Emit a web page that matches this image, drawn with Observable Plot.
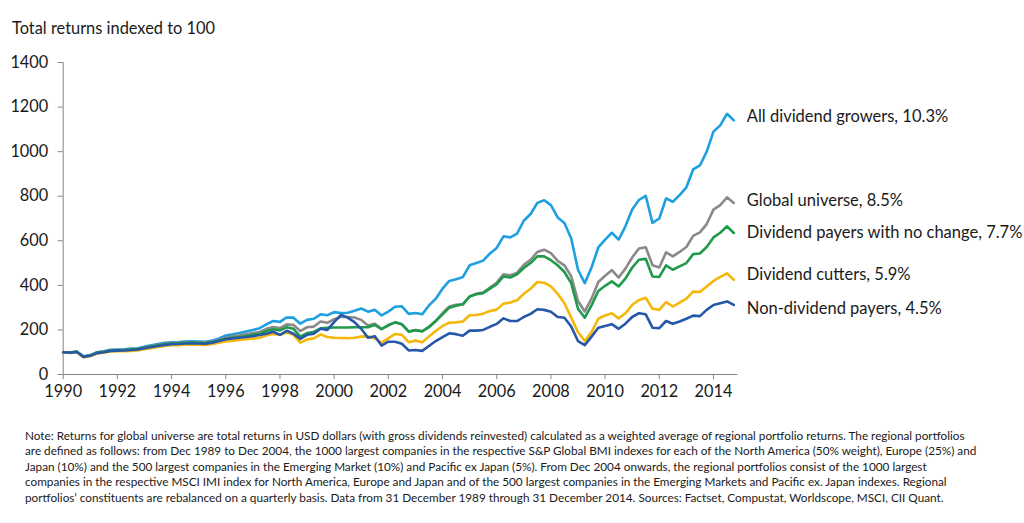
<!DOCTYPE html>
<html>
<head>
<meta charset="utf-8">
<script src="https://cdn.jsdelivr.net/npm/d3@7"></script>
<script src="https://cdn.jsdelivr.net/npm/@observablehq/plot@0.6"></script>
<style>
  html, body { margin: 0; padding: 0; background: #fff; }
  body { width: 1024px; height: 523px; position: relative; overflow: hidden; font-family: Lato, "Open Sans", sans-serif; color: #1a1a1a; }
  #title { position: absolute; left: 12px; top: 18px; font-size: 16.4px; }
  #chart { position: absolute; left: 0; top: 40px; }
  #note { position: absolute; left: 25px; top: 428px; font-size: 11.75px; line-height: 15.4px; white-space: nowrap; }
</style>
</head>
<body>
<div id="title">Total returns indexed to 100</div>
<div id="chart"></div>
<div id="note">Note: Returns for global universe are total returns in USD dollars (with gross dividends reinvested) calculated as a weighted average of regional portfolio returns. The regional portfolios<br>are defined as follows: from Dec 1989 to Dec 2004, the 1000 largest companies in the respective S&amp;P Global BMI indexes for each of the North America (50% weight), Europe (25%) and<br>Japan (10%) and the 500 largest companies in the Emerging Market (10%) and Pacific ex Japan (5%). From Dec 2004 onwards, the regional portfolios consist of the 1000 largest<br>companies in the respective MSCI IMI index for North America, Europe and Japan and of the 500 largest companies in the Emerging Markets and Pacific ex. Japan indexes. Regional<br>portfolios’ constituents are rebalanced on a quarterly basis. Data from 31 December 1989 through 31 December 2014. Sources: Factset, Compustat, Worldscope, MSCI, CII Quant.</div>
<script>
// Series names (legend labels) and colours
const seriesNames = [
  "All dividend growers, 10.3%",
  "Global universe, 8.5%",
  "Dividend payers with no change, 7.7%",
  "Dividend cutters, 5.9%",
  "Non-dividend payers, 4.5%"
];
const seriesColors = ["#1d9fe0", "#8a8a8a", "#1f9a4b", "#f5b70a", "#2558a8"];

// Axis ticks
const yearTicks = [1990, 1992, 1994, 1996, 1998, 2000, 2002, 2004, 2006, 2008, 2010, 2012, 2014];
const valueTicks = [0, 200, 400, 600, 800, 1000, 1200, 1400];

// Quarterly index values, first value = Dec 1989
const allGrowers = [100,99,103,82,87,100,104,111,112,113,116,118,125,131,137,142,145,146,148,149,148,147,152,162,
  175,180,186,193,200,208,225,240,236,256,255,228,245,250,270,266,280,276,277,286,296,282,290,265,282,304,306,272,276,270,310,340,
  385,420,427,437,490,500,511,543,568,620,615,632,690,720,770,782,760,705,680,610,470,410,480,570,605,636,605,665,740,783,802,
  680,700,790,775,805,840,920,938,1000,1090,1118,1170,1140];
const globalUniverse = [100,98,102,81,86,99,103,109,110,111,113,115,121,127,133,138,141,142,144,145,144,143,148,156,
  165,172,176,181,186,191,205,213,208,225,222,195,212,215,238,232,248,258,258,256,245,220,228,205,220,234,226,193,200,195,215,240,
  275,305,313,315,350,363,368,390,412,450,445,456,492,515,550,560,545,510,490,440,330,283,340,415,443,468,435,475,525,565,571,
  490,480,548,530,550,572,622,638,675,740,760,795,770];
const noChange = [100,98,102,80,85,98,102,108,109,110,112,114,120,125,131,136,139,140,142,143,142,141,146,153,
  160,165,168,173,178,182,195,203,198,212,205,170,186,191,207,210,211,211,211,212,212,212,223,203,222,234,225,192,199,193,212,240,
  270,300,309,315,350,360,365,385,405,440,435,450,478,500,530,530,513,490,460,410,295,255,310,375,398,418,395,430,480,515,519,
  440,438,490,470,485,500,540,543,572,615,636,665,635];
const cutters = [100,97,100,78,82,94,98,103,104,105,106,108,114,118,123,128,131,132,134,135,134,133,137,143,
  148,152,155,158,161,165,176,182,178,188,178,143,157,162,180,168,165,164,163,165,170,171,162,143,162,182,178,145,152,145,170,195,
  218,232,234,238,266,267,273,285,291,318,323,333,362,385,415,412,395,362,320,255,190,150,190,250,265,275,252,275,312,334,344,
  295,290,325,305,322,340,372,370,395,420,438,454,425];
const nonPayers = [100,98,101,79,84,96,100,106,107,108,110,112,118,123,128,133,136,137,139,140,139,138,143,150,
  158,162,165,168,172,177,183,192,178,196,183,160,178,183,205,200,235,268,255,235,205,165,172,130,147,147,138,108,110,106,128,150,
  168,185,181,174,197,197,200,214,227,252,240,240,258,272,293,290,282,258,255,215,150,132,170,210,218,226,205,228,258,275,270,
  210,208,240,228,238,250,264,262,290,312,320,328,312];

const seriesValues = [allGrowers, globalUniverse, noChange, cutters, nonPayers];

// Long-form table built from the arrays
const rows = [];
seriesValues.forEach((vals, s) => {
  vals.forEach((v, i) => rows.push({series: seriesNames[s], t: 1990 + i / 4, v}));
});
const lastPoints = seriesValues.map((vals, s) => ({series: seriesNames[s], t: 1990 + (vals.length - 1) / 4, v: vals[vals.length - 1]}));

const labelDy = [-4, -2, 0, -5, 4];
const axisColor = "#868686";
const fs = 16.3;

const chart = Plot.plot({
  width: 1024,
  height: 380,
  marginLeft: 62.7,
  marginRight: 288,
  marginTop: 22,
  marginBottom: 46,
  style: {fontFamily: "Lato, 'Open Sans', sans-serif", fontSize: fs + "px", color: "#1a1a1a", background: "transparent"},
  x: {domain: [1990, 2014.85], ticks: yearTicks, tickFormat: d => String(d), label: null},
  y: {domain: [0, 1400], ticks: valueTicks, tickFormat: d => String(d), label: null},
  color: {domain: seriesNames, range: seriesColors},
  marks: [
    Plot.axisY({ticks: valueTicks, tickSize: 5, tickPadding: 10, stroke: axisColor, label: null, tickFormat: d => String(d), fontSize: fs}),
    Plot.axisX({ticks: yearTicks, tickSize: 5, tickPadding: 6, stroke: axisColor, label: null, tickFormat: d => String(d), fontSize: fs}),
    Plot.ruleX([1990], {y1: 0, y2: 1400, stroke: axisColor, strokeWidth: 1}),
    Plot.ruleY([0], {x1: 1990, x2: 2014.9, stroke: axisColor, strokeWidth: 1}),
    Plot.lineY(rows, {x: "t", y: "v", stroke: "series", strokeWidth: 2.6, strokeLinejoin: "round"}),
    ...lastPoints.map((p, s) => Plot.text([p], {x: "t", y: "v", text: "series", dx: 13, dy: labelDy[s], textAnchor: "start", fill: "#1a1a1a", fontSize: 16.5}))
  ]
});
document.getElementById("chart").appendChild(chart);
</script>
</body>
</html>
